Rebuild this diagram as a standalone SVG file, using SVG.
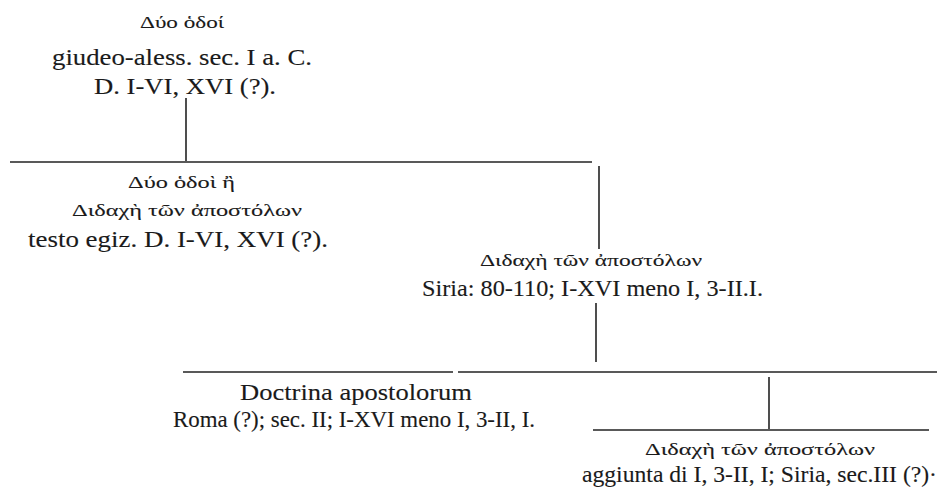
<svg xmlns="http://www.w3.org/2000/svg" width="939" height="488" viewBox="0 0 939 488">
<style>
  .lat { font-family: "Liberation Serif", "DejaVu Serif", serif; font-size: 23.5px; fill: #1a1a1a; stroke: #1a1a1a; stroke-width: 0.12; }
  .grk { font-family: "Liberation Serif", "DejaVu Serif", serif; font-size: 17px; fill: #1a1a1a; stroke: #1a1a1a; stroke-width: 0.1; }
  .ln { stroke: #222; stroke-width: 1.6; fill: none; }
</style>
<rect width="939" height="488" fill="#ffffff"/>
<g id="connectors">
  <line class="ln" x1="186" y1="98" x2="186" y2="161"/>
  <line class="ln" x1="10" y1="162" x2="592" y2="162"/>
  <line class="ln" x1="599" y1="166" x2="599" y2="249"/>
  <line class="ln" x1="596" y1="303" x2="596" y2="362"/>
  <line class="ln" x1="183" y1="372" x2="453" y2="372"/>
  <line class="ln" x1="458" y1="372" x2="937" y2="372"/>
  <line class="ln" x1="769" y1="377" x2="769" y2="429"/>
  <line class="ln" x1="593" y1="430" x2="929" y2="430"/>
</g>
<g id="node-duo-odoi">
  <text class="grk" x="140" y="28" textLength="84" lengthAdjust="spacingAndGlyphs">Δύο ὁδοί</text>
  <text class="lat" x="52" y="65" textLength="260" lengthAdjust="spacingAndGlyphs">giudeo-aless. sec. I a. C.</text>
  <text class="lat" x="94" y="94" textLength="182" lengthAdjust="spacingAndGlyphs">D. I-VI, XVI (?).</text>
</g>
<g id="node-testo-egiz">
  <text class="grk" x="128" y="188" textLength="107" lengthAdjust="spacingAndGlyphs">Δύο ὁδοὶ ἢ</text>
  <text class="grk" x="72" y="216" textLength="230" lengthAdjust="spacingAndGlyphs">Διδαχὴ τῶν ἀποστόλων</text>
  <text class="lat" x="28" y="247" textLength="300" lengthAdjust="spacingAndGlyphs">testo egiz. D. I-VI, XVI (?).</text>
</g>
<g id="node-siria">
  <text class="grk" x="480" y="266" textLength="222" lengthAdjust="spacingAndGlyphs">Διδαχὴ τῶν ἀποστόλων</text>
  <text class="lat" x="422" y="296" textLength="341" lengthAdjust="spacingAndGlyphs">Siria: 80-110; I-XVI meno I, 3-II.I.</text>
</g>
<g id="node-doctrina">
  <text class="lat" x="240" y="400" textLength="232" lengthAdjust="spacingAndGlyphs">Doctrina apostolorum</text>
  <text class="lat" x="173" y="427" textLength="362" lengthAdjust="spacingAndGlyphs">Roma (?); sec. II; I-XVI meno I, 3-II, I.</text>
</g>
<g id="node-aggiunta">
  <text class="grk" x="645" y="455" textLength="230" lengthAdjust="spacingAndGlyphs">Διδαχὴ τῶν ἀποστόλων</text>
  <text class="lat" x="582" y="482" textLength="355" lengthAdjust="spacingAndGlyphs">aggiunta di I, 3-II, I; Siria, sec.III (?)·</text>
</g>
</svg>
